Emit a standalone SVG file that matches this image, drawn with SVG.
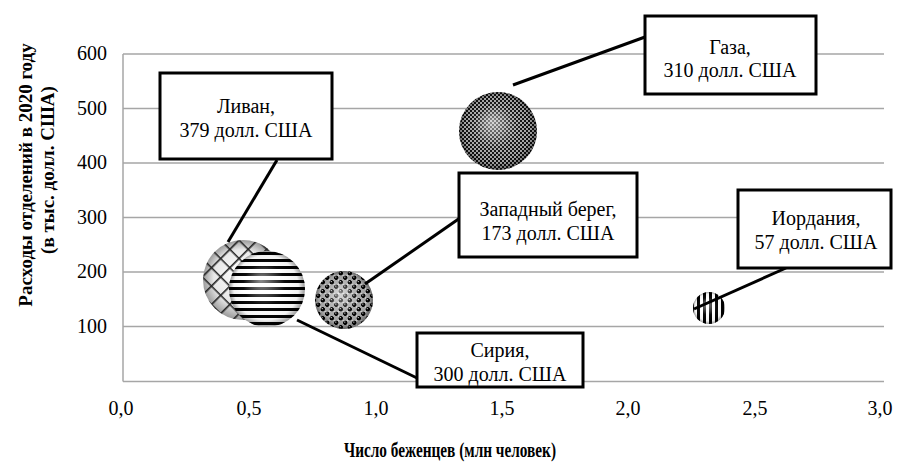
<svg xmlns="http://www.w3.org/2000/svg" width="899" height="466" viewBox="0 0 899 466">
<defs>
<style>
.grid{stroke:#a6a6a6;stroke-width:1.5;fill:none}
.tick{font-family:"Liberation Serif","Times New Roman",serif;font-size:20px;fill:#000}
.ttl{font-family:"Liberation Serif","Times New Roman",serif;font-size:19px;font-weight:bold;fill:#000}
.xttl{font-size:21px}
.box{fill:#fff;stroke:#000;stroke-width:3}
.lbl{font-family:"Liberation Serif","Times New Roman",serif;font-size:20px;fill:#000;text-anchor:middle}
.lead{stroke:#000;stroke-width:3;fill:none}
</style>
<radialGradient id="shade" cx="0.5" cy="0.5" r="0.5" fx="0.42" fy="0.38">
<stop offset="0" stop-color="#fff" stop-opacity="0.55"/>
<stop offset="0.55" stop-color="#fff" stop-opacity="0.05"/>
<stop offset="0.85" stop-color="#000" stop-opacity="0.05"/>
<stop offset="1" stop-color="#000" stop-opacity="0.4"/>
</radialGradient>
<radialGradient id="lightbg" cx="0.5" cy="0.5" r="0.5" fx="0.45" fy="0.4">
<stop offset="0" stop-color="#ffffff"/>
<stop offset="0.7" stop-color="#e8e8e8"/>
<stop offset="1" stop-color="#9a9a9a"/>
</radialGradient>
<pattern id="lattice" width="13" height="13" patternUnits="userSpaceOnUse" patternTransform="rotate(45)">
<path d="M0 0.8H13M0.8 0V13" stroke="#222" stroke-width="1.6"/>
</pattern>
<pattern id="hstripe" width="8" height="7" patternUnits="userSpaceOnUse">
<rect width="8" height="7" fill="#fff"/>
<rect y="0" width="8" height="3" fill="#000"/>
</pattern>
<pattern id="balls" width="9" height="9" patternUnits="userSpaceOnUse" x="1" y="1">
<rect width="9" height="9" fill="#fff"/>
<rect x="0" y="0" width="4.5" height="4.5" fill="#aaa"/>
<rect x="4.5" y="4.5" width="4.5" height="4.5" fill="#aaa"/>
<circle cx="2.25" cy="6.75" r="2.3" fill="#000"/>
<circle cx="6.75" cy="2.25" r="2.3" fill="#000"/>
<circle cx="1.8" cy="6.1" r="0.7" fill="#ddd"/>
<circle cx="6.3" cy="1.6" r="0.7" fill="#ddd"/>
</pattern>
<pattern id="dither" width="4" height="4" patternUnits="userSpaceOnUse">
<rect width="4" height="4" fill="#aaa"/>
<rect x="0" y="0" width="2" height="2" fill="#111"/>
<rect x="2" y="2" width="2" height="2" fill="#111"/>
</pattern>
<pattern id="vstripe" width="6" height="6" patternUnits="userSpaceOnUse" x="1">
<rect width="6" height="6" fill="#fff"/>
<rect x="0" width="3" height="6" fill="#000"/>
</pattern>
</defs>
<rect width="899" height="466" fill="#fff"/>
<g id="axes">
<path class="grid" d="M123 54H884M123 108.5H884M123 163H884M123 217.5H884M123 272H884M123 326.5H884M123 381.5H884M123 54V381.5"/>
<g class="tick" text-anchor="end">
<text x="107" y="60">600</text>
<text x="107" y="114.5">500</text>
<text x="107" y="169">400</text>
<text x="107" y="223.5">300</text>
<text x="107" y="278">200</text>
<text x="107" y="332.5">100</text>
</g>
<g class="tick" text-anchor="middle">
<text x="121" y="415">0,0</text>
<text x="249" y="415">0,5</text>
<text x="376" y="415">1,0</text>
<text x="502" y="415">1,5</text>
<text x="628" y="415">2,0</text>
<text x="755" y="415">2,5</text>
<text x="880" y="415">3,0</text>
</g>
<text class="ttl xttl" x="450" y="457" text-anchor="middle" textLength="212" lengthAdjust="spacingAndGlyphs">Число беженцев (млн человек)</text>
<g class="ttl" text-anchor="middle">
<text transform="translate(32 175) rotate(-90)">Расходы отделений в 2020 году</text>
<text transform="translate(54 170) rotate(-90)">(в тыс. долл. США)</text>
</g>
</g>
<g id="livan-bubble">
<circle cx="243" cy="280" r="40" fill="url(#lightbg)"/>
<circle cx="243" cy="280" r="40" fill="url(#lattice)"/>
</g>
<g id="siria-bubble">
<circle cx="267" cy="289" r="38" fill="url(#hstripe)"/>
<circle cx="267" cy="289" r="38" fill="url(#shade)"/>
</g>
<g id="zapad-bubble">
<circle cx="344" cy="300" r="29" fill="url(#balls)"/>
<circle cx="344" cy="300" r="29" fill="url(#shade)"/>
</g>
<g id="gaza-bubble">
<circle cx="498" cy="131" r="39" fill="url(#dither)"/>
<circle cx="498" cy="131" r="39" fill="url(#shade)"/>
</g>
<g id="iord-bubble">
<circle cx="709" cy="308" r="16" fill="url(#vstripe)"/>
<circle cx="709" cy="308" r="16" fill="url(#shade)"/>
</g>
<g id="connectors">
<line class="lead" x1="277" y1="160" x2="228" y2="242"/>
<line class="lead" x1="513" y1="85" x2="645" y2="37"/>
<line class="lead" x1="365" y1="284" x2="460" y2="218"/>
<line class="lead" x1="694" y1="309" x2="786" y2="268"/>
<line class="lead" x1="297" y1="320" x2="417" y2="378"/>
</g>
<g id="livan">
<rect class="box" x="160" y="73" width="172" height="86"/>
<text class="lbl" x="246" y="113">Ливан,</text>
<text class="lbl" x="246" y="137">379 долл. США</text>
</g>
<g id="gaza">
<rect class="box" x="645" y="16" width="171" height="78"/>
<text class="lbl" x="730" y="54">Газа,</text>
<text class="lbl" x="730" y="77">310 долл. США</text>
</g>
<g id="zapad">
<rect class="box" x="459" y="173" width="178" height="84"/>
<text class="lbl" x="548" y="216">Западный берег,</text>
<text class="lbl" x="548" y="240">173 долл. США</text>
</g>
<g id="iordania">
<rect class="box" x="738" y="190" width="153" height="78"/>
<text class="lbl" x="816" y="225">Иордания,</text>
<text class="lbl" x="816" y="249">57 долл. США</text>
</g>
<g id="siria">
<rect class="box" x="417" y="333" width="166" height="54"/>
<text class="lbl" x="500" y="357">Сирия,</text>
<text class="lbl" x="500" y="381">300 долл. США</text>
</g>
</svg>
